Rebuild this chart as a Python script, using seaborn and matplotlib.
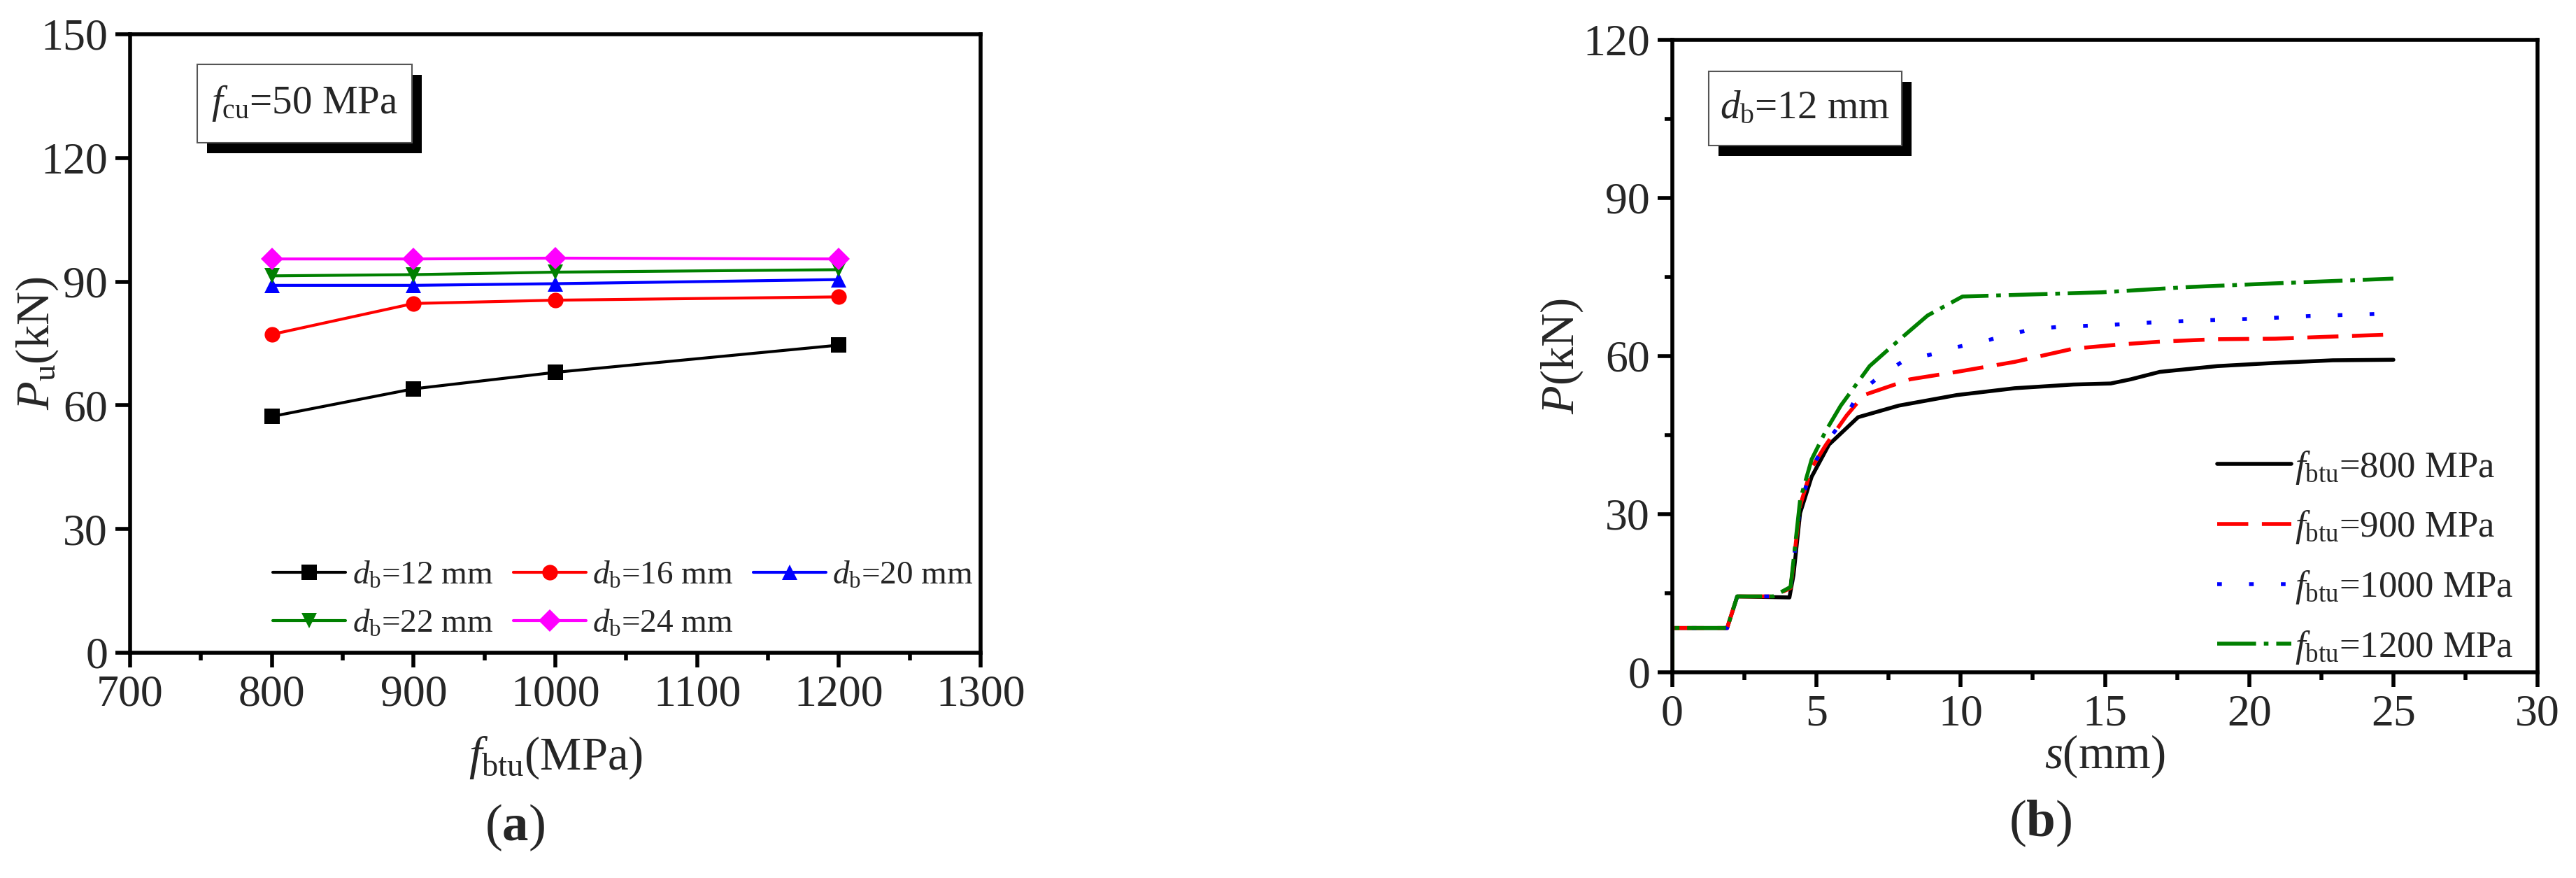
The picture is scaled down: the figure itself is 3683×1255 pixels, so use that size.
import matplotlib
matplotlib.use("Agg")
import matplotlib.pyplot as plt
from matplotlib.patches import Rectangle
from matplotlib.ticker import MultipleLocator
import seaborn as sns

sns.set_style("ticks")
plt.rcParams['font.family'] = ['Liberation Serif', 'DejaVu Serif']
plt.rcParams['mathtext.fontset'] = 'custom'
plt.rcParams['mathtext.rm'] = 'Liberation Serif'
plt.rcParams['mathtext.it'] = 'Liberation Serif:italic'
plt.rcParams['mathtext.bf'] = 'Liberation Serif:bold'

# (a) ultimate load vs bolt strength
fbtu = [800, 900, 1000, 1200]
pu_d12 = [57.3, 64.0, 68.0, 74.6]
pu_d16 = [77.2, 84.7, 85.5, 86.3]
pu_d20 = [89.1, 89.1, 89.5, 90.5]
pu_d22 = [91.4, 91.7, 92.3, 92.9]
pu_d24 = [95.5, 95.5, 95.7, 95.5]
a_labels = ['$d_{\\rm b}$=12 mm', '$d_{\\rm b}$=16 mm', '$d_{\\rm b}$=20 mm',
            '$d_{\\rm b}$=22 mm', '$d_{\\rm b}$=24 mm']

# (b) load-slip curves, d_b = 12 mm
s_800 = [0, 0, 1.9, 2.25, 4.06, 4.2, 4.43, 4.83, 5.43, 6.44, 7.85, 9.86, 11.87,
         13.9, 15.2, 15.9, 16.9, 18.9, 20.9, 22.9, 25.0]
p_800 = [0, 8.4, 8.4, 14.4, 14.2, 18.4, 30.2, 37.1, 43.2, 48.4, 50.6, 52.6, 53.9,
         54.6, 54.8, 55.6, 57.0, 58.1, 58.7, 59.2, 59.3]
s_900 = [0, 0, 1.9, 2.25, 3.5, 4.1, 4.43, 4.83, 5.33, 6.04, 6.64, 8.25, 9.86,
         11.87, 13.9, 15.5, 17.1, 18.9, 20.9, 22.9, 25.0]
p_900 = [0, 8.4, 8.4, 14.4, 14.4, 16.0, 31.6, 38.8, 43.2, 48.7, 52.6, 55.6, 57.0,
         58.9, 61.4, 62.2, 62.8, 63.2, 63.3, 63.7, 64.1]
s_1000 = [0, 0, 1.9, 2.25, 3.5, 4.1, 4.43, 4.83, 5.33, 6.04, 6.44, 7.24, 8.05, 9.05,
          9.86, 10.87, 11.67, 12.5, 13.3, 15.1, 16.7, 18.5, 20.3, 22.1, 23.9, 25.0]
p_1000 = [0, 8.4, 8.4, 14.4, 14.4, 16.0, 31.6, 38.8, 43.5, 48.7, 52.8, 56.4, 59.2, 60.4,
          61.7, 62.9, 64.1, 65.1, 65.5, 65.9, 66.4, 66.8, 67.1, 67.6, 67.9, 68.1]
s_1200 = [0, 0, 1.9, 2.25, 3.5, 4.1, 4.43, 4.83, 5.33, 5.84, 6.84, 7.85, 8.85, 10.06,
          11.87, 14.9, 17.9, 20.9, 25.0]
p_1200 = [0, 8.4, 8.4, 14.4, 14.4, 16.2, 32.7, 40.4, 45.9, 50.6, 58.1, 63.0, 67.7, 71.3,
          71.6, 72.1, 73.1, 73.8, 74.7]
b_labels = ['$f_{\\rm btu}$=800 MPa', '$f_{\\rm btu}$=900 MPa',
            '$f_{\\rm btu}$=1000 MPa', '$f_{\\rm btu}$=1200 MPa']

fig = plt.figure(figsize=(36.83, 12.55), dpi=100)
ax1 = fig.add_axes([0.0505, 0.2566, 0.3302, 0.7044])
ax2 = fig.add_axes([0.6492, 0.2343, 0.3359, 0.7203])

tick_fs = 46
label_fs = 48


def style_axes(ax):
    for sp in ax.spines.values():
        sp.set_linewidth(4)
        sp.set_color('black')
    ax.tick_params(which='major', direction='out', length=15, width=4, labelsize=tick_fs,
                   pad=8, color='black', top=False, right=False)
    ax.tick_params(which='minor', direction='out', length=8, width=4, color='black',
                   top=False, right=False)


def shadow_box(ax, x0, y0, w, h, dx, dy, txt):
    ax.add_patch(Rectangle((x0 + dx, y0 - dy), w, h, transform=ax.transAxes,
                           facecolor='black', edgecolor='none', zorder=5, clip_on=False))
    ax.add_patch(Rectangle((x0, y0), w, h, transform=ax.transAxes,
                           facecolor='white', edgecolor='#555555', lw=1.5, zorder=6,
                           clip_on=False))
    ax.text(x0 + w / 2, y0 + h / 2, txt, transform=ax.transAxes, ha='center',
            va='center', fontsize=41, zorder=7)


# ---- panel (a)
series_a = [pu_d12, pu_d16, pu_d20, pu_d22, pu_d24]
colors_a = ['black', '#FF0000', '#0000FF', '#008000', '#FF00FF']
markers_a = ['s', 'o', '^', 'v', 'D']
for vals, c, m, lab in zip(series_a, colors_a, markers_a, a_labels):
    sns.lineplot(x=fbtu, y=vals, ax=ax1, color=c, marker=m, markersize=16,
                 markeredgecolor=c, markeredgewidth=0, linewidth=3, label=lab)
ax1.set_xlim(700, 1300)
ax1.set_ylim(0, 150)
ax1.xaxis.set_major_locator(MultipleLocator(100))
ax1.xaxis.set_minor_locator(MultipleLocator(50))
ax1.yaxis.set_major_locator(MultipleLocator(30))
style_axes(ax1)
ax1.set_xlabel('$f_{\\rm btu}$(MPa)', fontsize=label_fs)
ax1.set_ylabel('$P_{\\rm u}$(kN)', fontsize=label_fs)
ax1.xaxis.set_label_coords(0.5, -0.170)
ax1.xaxis.label.set_va('center')
ax1.yaxis.set_label_coords(-0.109, 0.5)
ax1.yaxis.label.set_va('center')

h, l = ax1.get_legend_handles_labels()
order = [0, 3, 1, 4, 2]
ax1.legend([h[i] for i in order], [l[i] for i in order], ncol=3, frameon=False,
           fontsize=34, loc='lower left', bbox_to_anchor=(0.168, 0.022),
           handlelength=2.2, handletextpad=0.2, columnspacing=0.6,
           labelspacing=0.55, borderpad=0, borderaxespad=0)
shadow_box(ax1, 0.079, 0.825, 0.252, 0.126, 0.0115, 0.017, '$f_{\\rm cu}$=50 MPa')
fig.text(0.1998, 0.0574, '($\\mathbf{a}$)', ha='center', va='center', fontsize=54)

# ---- panel (b)
series_b = [(s_800, p_800), (s_900, p_900), (s_1000, p_1000), (s_1200, p_1200)]
colors_b = ['black', '#FF0000', '#0000FF', '#008000']
styles_b = ['-', (0, (8, 3.5)), (0, (1.2, 7)), (0, (10, 2, 1.2, 2))]
for (sx, py), c, ls, lab in zip(series_b, colors_b, styles_b, b_labels):
    sns.lineplot(x=sx, y=py, ax=ax2, color=c, linestyle=ls, linewidth=4,
                 sort=False, estimator=None, label=lab)
ax2.set_xlim(0, 30)
ax2.set_ylim(0, 120)
ax2.xaxis.set_major_locator(MultipleLocator(5))
ax2.xaxis.set_minor_locator(MultipleLocator(2.5))
ax2.yaxis.set_major_locator(MultipleLocator(30))
ax2.yaxis.set_minor_locator(MultipleLocator(15))
style_axes(ax2)
ax2.set_xlabel('$s$(mm)', fontsize=label_fs)
ax2.set_ylabel('$P$(kN)', fontsize=label_fs)
ax2.xaxis.set_label_coords(0.5, -0.133)
ax2.xaxis.label.set_va('center')
ax2.yaxis.set_label_coords(-0.128, 0.5)
ax2.yaxis.label.set_va('center')
ax2.legend(frameon=False, fontsize=38, loc='lower left', bbox_to_anchor=(0.63, 0.01),
           handlelength=2.0, handletextpad=0.1, labelspacing=0.62, borderpad=0,
           borderaxespad=0)
shadow_box(ax2, 0.042, 0.833, 0.223, 0.117, 0.0113, 0.0166, '$d_{\\rm b}$=12 mm')
fig.text(0.792, 0.062, '($\\mathbf{b}$)', ha='center', va='center', fontsize=54)

fig.savefig('out.png', dpi=100)
